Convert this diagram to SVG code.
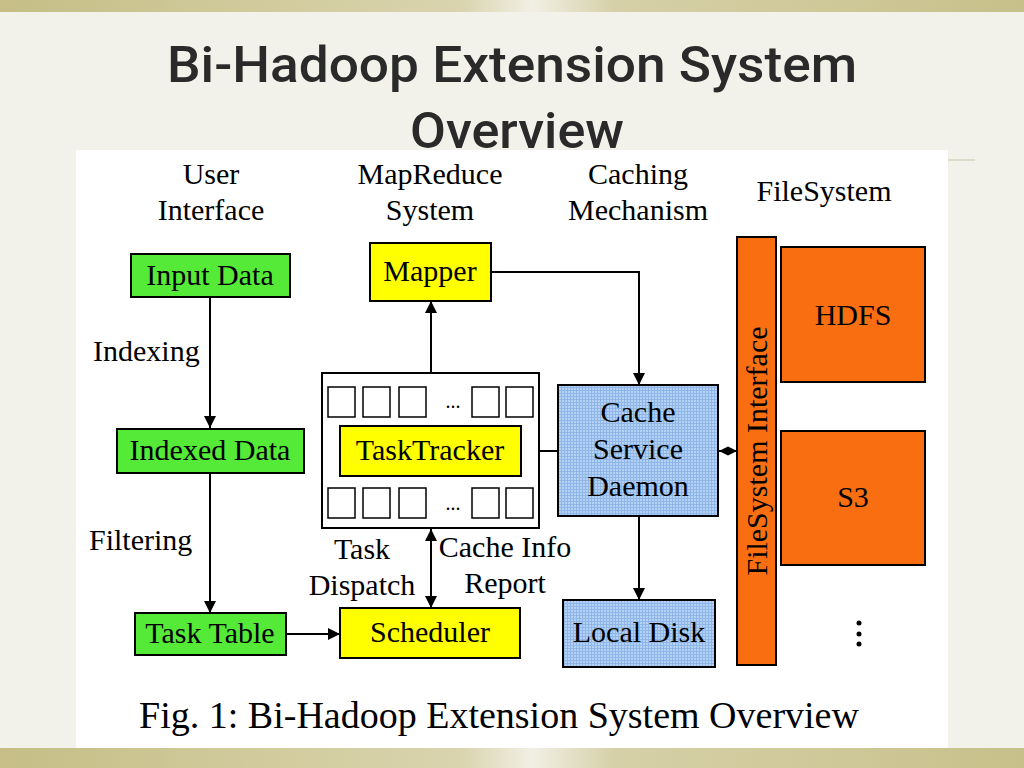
<svg xmlns="http://www.w3.org/2000/svg" width="1024" height="768" viewBox="0 0 1024 768">
<defs>
<linearGradient id="band" x1="0" y1="0" x2="1" y2="0">
<stop offset="0" stop-color="#c6be86"/>
<stop offset="0.45" stop-color="#d9d4ae"/>
<stop offset="0.52" stop-color="#f1efe4"/>
<stop offset="0.6" stop-color="#d6d0a8"/>
<stop offset="1" stop-color="#c8c08a"/>
</linearGradient>
<pattern id="grid" width="3" height="3" patternUnits="userSpaceOnUse">
<rect width="3" height="3" fill="#b4d2f6"/>
<path d="M0 0.5H3M0.5 0V3" stroke="#8fb6e6" stroke-width="1"/>
</pattern>
<marker id="ah" viewBox="0 0 12 12" refX="12" refY="6" markerWidth="12" markerHeight="12" markerUnits="userSpaceOnUse" orient="auto-start-reverse">
<path d="M0 0L12 6L0 12z" fill="#000"/>
</marker>
<marker id="ahs" viewBox="0 0 10 10" refX="10" refY="5" markerWidth="9" markerHeight="10" markerUnits="userSpaceOnUse" orient="auto-start-reverse">
<path d="M0 0L10 5L0 10z" fill="#000"/>
</marker>
</defs>
<style>
.t{font-family:"Liberation Serif","Times New Roman",serif;font-size:30px;fill:#000}
.m{text-anchor:middle}
.bx{stroke:#000;stroke-width:2}
.g{fill:#55ea38}
.y{fill:#ffff00}
.o{fill:#f96e10}
.b{fill:url(#grid)}
.sq{fill:#fff;stroke:#000;stroke-width:1.5}
.ln{fill:none;stroke:#000;stroke-width:2}
</style>
<rect width="1024" height="768" fill="#f3f2ea"/>
<rect x="0" y="0" width="1024" height="12" fill="url(#band)"/>
<rect x="0" y="748" width="1024" height="20" fill="url(#band)"/>
<line x1="948" y1="160" x2="975" y2="160" stroke="#dedbcc" stroke-width="2"/>
<rect x="76" y="150" width="872" height="598" fill="#fff"/>

<g id="headers">
<text class="t m" x="211" y="184">User</text>
<text class="t m" x="211" y="220">Interface</text>
<text class="t m" x="430" y="184">MapReduce</text>
<text class="t m" x="430" y="220">System</text>
<text class="t m" x="638" y="184">Caching</text>
<text class="t m" x="638" y="220">Mechanism</text>
<text class="t m" x="824" y="201">FileSystem</text>
</g>

<g id="connectors">
<line class="ln" x1="210" y1="297" x2="210" y2="428" marker-end="url(#ah)"/>
<line class="ln" x1="210" y1="473" x2="210" y2="613" marker-end="url(#ah)"/>
<line class="ln" x1="286" y1="634" x2="340" y2="634" marker-end="url(#ah)"/>
<line class="ln" x1="431" y1="373" x2="431" y2="301" marker-end="url(#ah)"/>
<polyline class="ln" points="491,272 639,272 639,385" marker-end="url(#ah)"/>
<line class="ln" x1="431" y1="529" x2="431" y2="608" marker-start="url(#ah)" marker-end="url(#ah)"/>
<line class="ln" x1="539" y1="451" x2="558" y2="451"/>
<line class="ln" x1="639" y1="516" x2="639" y2="600" marker-end="url(#ah)"/>
<line class="ln" x1="719" y1="451" x2="737" y2="451" marker-start="url(#ahs)" marker-end="url(#ahs)"/>
</g>

<g id="input-data">
<rect class="bx g" x="131" y="254" width="159" height="43"/>
<text class="t m" x="210" y="285">Input Data</text>
</g>
<text class="t" x="93" y="361">Indexing</text>
<g id="indexed-data">
<rect class="bx g" x="117" y="429" width="187" height="44"/>
<text class="t m" x="210" y="460">Indexed Data</text>
</g>
<text class="t" x="89" y="550">Filtering</text>
<g id="task-table">
<rect class="bx g" x="135" y="613" width="151" height="42"/>
<text class="t m" x="210" y="643">Task Table</text>
</g>

<g id="mapper">
<rect class="bx y" x="370" y="243" width="121" height="58"/>
<text class="t m" x="430" y="281">Mapper</text>
</g>

<g id="tasktracker">
<rect x="322" y="373" width="217" height="155" fill="#fff" stroke="#000" stroke-width="2"/>
<rect class="sq" x="328" y="387" width="27" height="30"/>
<rect class="sq" x="363" y="387" width="27" height="30"/>
<rect class="sq" x="399" y="387" width="27" height="30"/>
<rect class="sq" x="472" y="387" width="27" height="30"/>
<rect class="sq" x="506" y="387" width="27" height="30"/>
<text class="t m" x="453" y="408" style="font-size:20px">...</text>
<rect class="sq" x="328" y="488" width="27" height="30"/>
<rect class="sq" x="363" y="488" width="27" height="30"/>
<rect class="sq" x="399" y="488" width="27" height="30"/>
<rect class="sq" x="472" y="488" width="27" height="30"/>
<rect class="sq" x="506" y="488" width="27" height="30"/>
<text class="t m" x="453" y="510" style="font-size:20px">...</text>
<rect class="bx y" x="340" y="426" width="181" height="50"/>
<text class="t m" x="430" y="460">TaskTracker</text>
</g>

<text class="t m" x="362" y="559">Task</text>
<text class="t m" x="362" y="595">Dispatch</text>
<text class="t m" x="505" y="557">Cache Info</text>
<text class="t m" x="505" y="593">Report</text>

<g id="scheduler">
<rect class="bx y" x="340" y="608" width="180" height="50"/>
<text class="t m" x="430" y="642">Scheduler</text>
</g>

<g id="cache-service-daemon">
<rect class="bx b" x="558" y="385" width="160" height="131"/>
<text class="t m" x="638" y="422">Cache</text>
<text class="t m" x="638" y="459">Service</text>
<text class="t m" x="638" y="496">Daemon</text>
</g>

<g id="local-disk">
<rect class="bx b" x="563" y="600" width="152" height="67"/>
<text class="t m" x="639" y="642">Local Disk</text>
</g>

<g id="filesystem-interface">
<rect class="bx o" x="737" y="237" width="39" height="428"/>
<text class="t m" transform="translate(767,451) rotate(-90)" x="0" y="0">FileSystem Interface</text>
</g>

<g id="hdfs">
<rect class="bx o" x="781" y="247" width="144" height="135"/>
<text class="t m" x="853" y="325">HDFS</text>
</g>
<g id="s3">
<rect class="bx o" x="781" y="431" width="144" height="134"/>
<text class="t m" x="853" y="507">S3</text>
</g>
<g id="more">
<circle cx="859" cy="623" r="2.5"/>
<circle cx="859" cy="634" r="2.5"/>
<circle cx="859" cy="644" r="2.5"/>
</g>

<text class="t m" x="499" y="728" style="font-size:38px">Fig. 1: Bi-Hadoop Extension System Overview</text>

<g id="title" font-family="Roboto,'Liberation Sans',Arial,sans-serif" font-size="50" font-weight="500" fill="#2a2a2a" text-anchor="middle">
<text x="512" y="82" textLength="690" lengthAdjust="spacingAndGlyphs">Bi-Hadoop Extension System</text>
<text x="517" y="148" textLength="214" lengthAdjust="spacingAndGlyphs">Overview</text>
</g>
</svg>
